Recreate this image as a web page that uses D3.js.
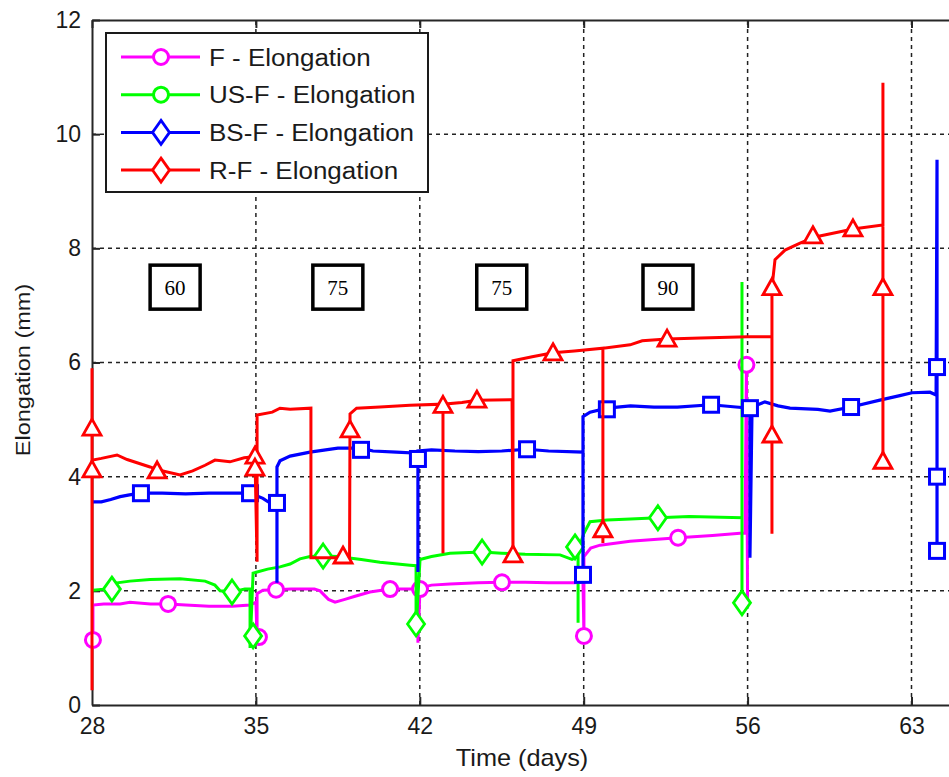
<!DOCTYPE html>
<html><head><meta charset="utf-8">
<script src="https://cdn.jsdelivr.net/npm/d3@7"></script>
<style>body{margin:0;background:#fff;overflow:hidden}svg{display:block}</style>
</head><body>
<script>
// ---------- data ----------
const xTicks = [28, 35, 42, 49, 56, 63];
const yTicks = [0, 2, 4, 6, 8, 10, 12];
const seriesNames = ["F - Elongation", "US-F - Elongation", "BS-F - Elongation", "R-F - Elongation"];
const annLabels = ["60", "75", "75", "90"];
const annDays = [31.55, 38.5, 45.5, 52.6];
const annVals = [7.32, 7.32, 7.32, 7.32];

const fLine = [[28.04,1.14],[28.04,1.75],[28.5,1.77],[29.2,1.77],[29.62,1.8],[30.5,1.77],[31.25,1.77],[32,1.75],[33,1.73],[34,1.73],[34.75,1.75],[35.0,1.8],[35.05,1.19],[35.05,1.95],[35.3,2.01],[35.86,2.02],[36.5,2.03],[37.5,2.03],[37.74,2.0],[38.1,1.85],[38.38,1.8],[38.8,1.85],[39.2,1.9],[39.87,1.98],[40.73,2.03],[41.71,2.03],[41.92,2.0],[41.92,1.09],[42.01,2.05],[42.5,2.1],[43.29,2.12],[44.5,2.14],[45.51,2.15],[46.5,2.15],[47.5,2.14],[48.6,2.14],[48.97,2.15],[49.01,1.21],[49.01,2.6],[49.3,2.75],[49.7,2.8],[50.98,2.87],[52,2.9],[53.03,2.93],[54.5,2.97],[55.68,3.01],[55.89,3.01],[55.95,5.96],[56.0,1.7]];
const fMarks = [[28.04,1.14],[31.25,1.77],[35.13,1.19],[35.86,2.02],[40.73,2.03],[42.01,2.03],[45.51,2.15],[49.01,1.21],[53.03,2.93],[55.95,5.96]];

const usfLine = [[28.04,2.01],[28.5,2.03],[29.07,2.14],[29.62,2.17],[30.48,2.2],[31.76,2.21],[32.83,2.17],[33.25,2.1],[33.47,2.0],[33.98,1.98],[34.53,2.03],[34.75,2.03],[34.75,1.0],[34.88,2.31],[35.5,2.38],[36.03,2.42],[36.46,2.47],[36.88,2.56],[37.31,2.6],[37.87,2.61],[38.5,2.6],[39.5,2.55],[40.3,2.5],[41.58,2.45],[41.84,2.44],[41.84,1.31],[42.01,2.55],[42.5,2.6],[43.29,2.66],[44.66,2.68],[45.5,2.66],[46.5,2.64],[47.99,2.63],[48.5,2.55],[48.76,2.6],[48.76,1.44],[48.76,2.7],[49.0,3.0],[49.27,3.21],[50,3.24],[51,3.26],[52.17,3.28],[53.5,3.3],[55.76,3.28],[55.76,7.41],[55.76,1.79]];
const usfMarks = [[28.85,2.03],[33.98,1.98],[34.88,1.21],[37.87,2.61],[41.84,1.42],[44.66,2.68],[48.63,2.77],[52.17,3.28],[55.76,1.79]];

const bsfLine = [[28.04,3.56],[28.4,3.56],[28.8,3.6],[29.2,3.65],[29.6,3.68],[30.09,3.71],[31,3.71],[32,3.7],[33,3.71],[34,3.71],[34.75,3.71],[35.3,3.62],[35.52,3.56],[35.9,3.54],[35.9,2.14],[35.9,4.17],[36.03,4.28],[36.46,4.36],[37.31,4.43],[38.5,4.5],[39.49,4.5],[40,4.45],[41,4.43],[41.92,4.41],[41.92,2.33],[41.92,4.45],[42.5,4.47],[43.5,4.45],[44.5,4.44],[45.5,4.45],[46.58,4.48],[47.5,4.45],[48.97,4.43],[48.97,2.28],[48.97,5.05],[49.27,5.13],[49.99,5.2],[51,5.24],[52,5.22],[53,5.22],[54.44,5.26],[55.5,5.22],[56.1,5.2],[56.1,2.58],[56.19,5.22],[56.74,5.31],[57.3,5.24],[57.81,5.2],[59.0,5.18],[59.52,5.15],[60.42,5.22],[61.65,5.34],[62.5,5.42],[63.02,5.47],[63.79,5.48],[64.05,5.43],[64.09,9.55],[64.09,2.6]];
const bsfMarks = [[30.09,3.71],[34.75,3.71],[35.9,3.54],[39.49,4.47],[41.92,4.31],[46.58,4.48],[48.97,2.28],[49.99,5.18],[54.44,5.26],[56.1,5.2],[60.42,5.22],[64.09,5.92],[64.09,4.0],[64.09,2.7]];

const rfLine = [[28.0,0.26],[28.0,5.9],[28.0,4.29],[28.4,4.32],[29.07,4.38],[29.5,4.3],[30.48,4.17],[30.8,4.12],[31.76,4.03],[32.3,4.1],[32.83,4.2],[33.25,4.29],[33.89,4.26],[34.5,4.33],[34.96,4.35],[35.05,2.51],[35.05,5.08],[35.7,5.13],[36.03,5.2],[36.46,5.18],[37.35,5.2],[37.35,2.58],[38.85,2.58],[39.0,2.58],[39.02,5.1],[39.3,5.2],[40.3,5.22],[41.58,5.25],[42.99,5.27],[42.99,2.66],[42.99,5.27],[43.8,5.3],[44.44,5.34],[45.94,5.35],[45.98,2.63],[45.98,6.03],[46.8,6.1],[47.69,6.17],[48.6,6.2],[49.82,6.25],[49.82,2.84],[49.82,6.25],[50.98,6.31],[51.5,6.38],[52.56,6.41],[54,6.43],[56,6.45],[57.04,6.45],[57.04,3.0],[57.04,7.31],[57.17,7.8],[57.6,7.97],[58.24,8.09],[58.88,8.2],[59.95,8.29],[60.5,8.34],[61.78,8.41],[61.78,10.9],[61.78,4.22]];
const rfMarks = [[28,4.85],[28,4.12],[30.78,4.1],[34.96,4.36],[34.96,4.15],[38.72,2.61],[39.02,4.82],[42.99,5.25],[44.44,5.34],[45.98,2.63],[47.69,6.17],[49.82,3.07],[52.56,6.41],[57.04,7.31],[57.04,4.73],[58.79,8.22],[60.5,8.34],[61.78,7.31],[61.78,4.27]];

// ---------- chart ----------
const W = 949, H = 777;
const svg = d3.select("body").append("svg").attr("width", W).attr("height", H);
const x = d3.scaleLinear().domain([28, 70]).range([92, 1075.4]);
const y = d3.scaleLinear().domain([0, 12]).range([705, 20]);
const axisColor = "#262626";
const font = "Arial, 'Liberation Sans', sans-serif";

// grid
const grid = svg.append("g");
xTicks.filter(t => t > 28).forEach(t => {
  grid.append("line").attr("x1", x(t)).attr("x2", x(t)).attr("y1", y(0)).attr("y2", y(12))
    .attr("stroke", "#222").attr("stroke-width", 1.5).attr("stroke-dasharray", "4,4");
});
yTicks.filter(t => t > 0 && t < 12).forEach(t => {
  grid.append("line").attr("x1", x(28)).attr("x2", x(70)).attr("y1", y(t)).attr("y2", y(t))
    .attr("stroke", "#222").attr("stroke-width", 1.5).attr("stroke-dasharray", "4,4");
});

// axes
const xAxis = d3.axisBottom(x).tickValues(xTicks).tickSizeInner(-8).tickSizeOuter(0).tickPadding(12);
const yAxis = d3.axisLeft(y).tickValues(yTicks).tickSizeInner(-8).tickSizeOuter(0).tickPadding(11);
const gx = svg.append("g").attr("transform", `translate(0,${y(0)})`).call(xAxis);
const gy = svg.append("g").attr("transform", `translate(${x(28)},0)`).call(yAxis);
const gxt = svg.append("g").attr("transform", `translate(0,${y(12)})`).call(d3.axisTop(x).tickValues(xTicks).tickSizeInner(-8).tickSizeOuter(0).tickFormat(""));
[gx, gy, gxt].forEach(g => {
  g.select(".domain").attr("stroke", axisColor).attr("stroke-width", 2);
  g.selectAll(".tick line").attr("stroke", axisColor).attr("stroke-width", 2);
  g.selectAll(".tick text").attr("fill", "#1a1a1a").style("font-family", font).style("font-size", "23px");
});
gx.selectAll(".tick text").attr("dy", "0.75em");
gx.selectAll(".tick").filter(d => d === 28).select("line").remove();

// stretched text helper
function sText(px, py, str, size, sx, rot) {
  return svg.append("text")
    .attr("transform", `translate(${px},${py})${rot ? " rotate(" + rot + ")" : ""} scale(${sx},1)`)
    .attr("text-anchor", "middle").style("font-family", font).style("font-size", size + "px")
    .attr("fill", "#1a1a1a").text(str);
}
sText(522, 766, "Time (days)", 23, 1.1, 0);
sText(30, 370, "Elongation (mm)", 21, 1.12, -90);

// annotation boxes
annLabels.forEach((lab, i) => {
  const cx = x(annDays[i]), cy = y(annVals[i]);
  svg.append("rect").attr("x", cx - 25).attr("y", cy - 22).attr("width", 50).attr("height", 44)
    .attr("fill", "#fff").attr("stroke", "#000").attr("stroke-width", 3.5);
  svg.append("text").attr("x", cx).attr("y", cy + 8).attr("text-anchor", "middle")
    .style("font-family", "'Liberation Serif', 'Times New Roman', serif").style("font-size", "21px")
    .attr("fill", "#000").text(lab);
});

// markers
function marker(g, kind, cx, cy, color) {
  if (kind === "circle") {
    g.append("circle").attr("cx", cx).attr("cy", cy).attr("r", 7.5)
      .attr("fill", "#fff").attr("stroke", color).attr("stroke-width", 3);
  } else if (kind === "diamond") {
    g.append("path").attr("d", `M${cx},${cy-12}L${cx+8.5},${cy}L${cx},${cy+12}L${cx-8.5},${cy}Z`)
      .attr("fill", "#fff").attr("stroke", color).attr("stroke-width", 2.8);
  } else if (kind === "square") {
    g.append("rect").attr("x", cx - 7.5).attr("y", cy - 7.5).attr("width", 15).attr("height", 15)
      .attr("fill", "#fff").attr("stroke", color).attr("stroke-width", 3);
  } else if (kind === "triangle") {
    g.append("path").attr("d", `M${cx},${cy-9}L${cx+9},${cy+7}L${cx-9},${cy+7}Z`)
      .attr("fill", "#fff").attr("stroke", color).attr("stroke-width", 2.8);
  }
}

const series = [
  {line: fLine, marks: fMarks, color: "#ff00ff", kind: "circle", w: 3},
  {line: usfLine, marks: usfMarks, color: "#00ff00", kind: "diamond", w: 3},
  {line: bsfLine, marks: bsfMarks, color: "#0000ff", kind: "square", w: 3.2},
  {line: rfLine, marks: rfMarks, color: "#ff0000", kind: "triangle", w: 3}
];
const lineGen = d3.line().x(d => x(d[0])).y(d => y(d[1]));
series.forEach(s => {
  const g = svg.append("g");
  g.append("path").datum(s.line).attr("d", lineGen).attr("fill", "none")
    .attr("stroke", s.color).attr("stroke-width", s.w).attr("stroke-linejoin", "miter");
  s.marks.forEach(m => marker(g, s.kind, x(m[0]), y(m[1]), s.color));
});

// legend
const legKinds = ["circle", "circle", "diamond", "diamond"];
const leg = svg.append("g");
leg.append("rect").attr("x", 106).attr("y", 33).attr("width", 322).attr("height", 159)
  .attr("fill", "#fff").attr("stroke", "#1a1a1a").attr("stroke-width", 2);
seriesNames.forEach((name, i) => {
  const ly = 57 + i * 37.7;
  leg.append("line").attr("x1", 121).attr("x2", 200).attr("y1", ly).attr("y2", ly)
    .attr("stroke", series[i].color).attr("stroke-width", 3);
  marker(leg, legKinds[i], 161, ly, series[i].color);
  leg.append("text").attr("transform", `translate(209,${ly + 8.5}) scale(1.13,1)`)
    .style("font-family", font).style("font-size", "23px").attr("fill", "#1a1a1a").text(name);
});
</script>
</body></html>
